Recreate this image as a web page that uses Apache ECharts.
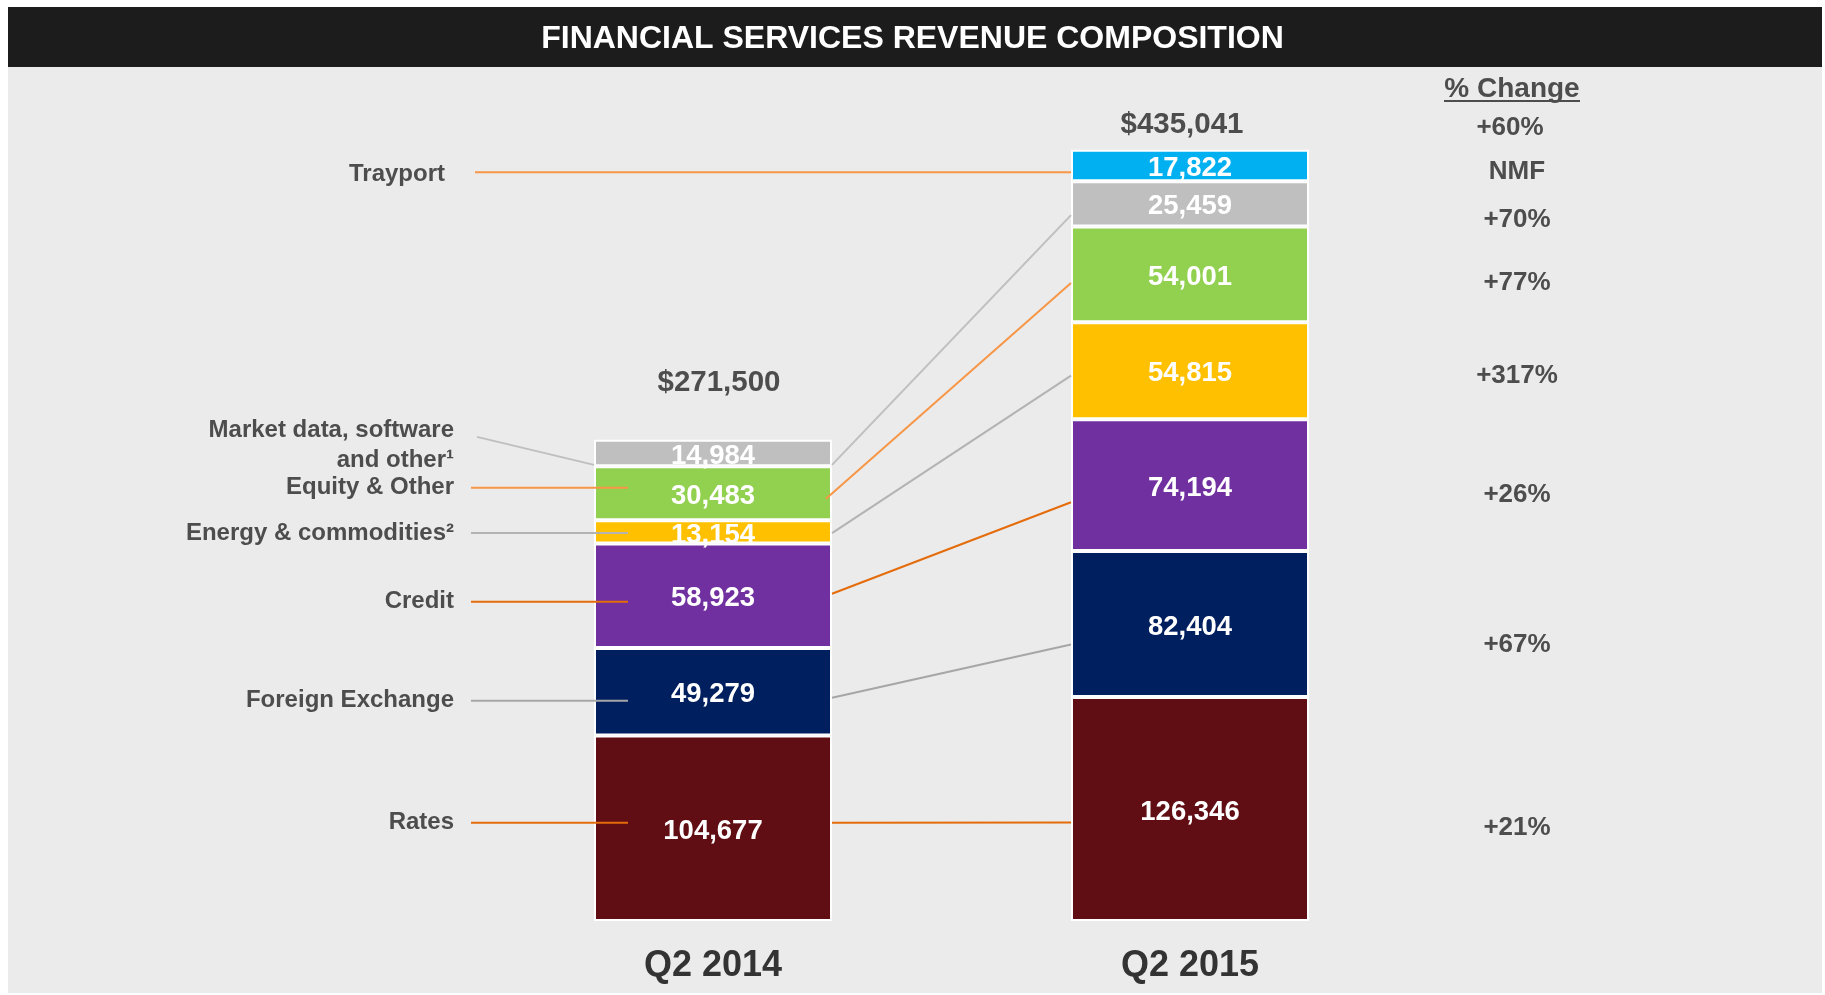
<!DOCTYPE html>
<html>
<head>
<meta charset="utf-8">
<title>Financial Services Revenue Composition</title>
<script src="https://cdn.jsdelivr.net/npm/echarts@6/dist/echarts.min.js"></script>
<style>
  html, body { margin: 0; padding: 0; background: #ffffff; }
  #chart { width: 1825px; height: 995px; }
</style>
</head>
<body>
<div id="chart"></div>
<script>
// data
const categories = ['Q2 2014', 'Q2 2015'];
const seriesNames = ['Rates', 'Foreign Exchange', 'Credit', 'Energy & commodities\u00b2',
  'Equity & Other', 'Market data, software\nand other\u00b9', 'Trayport'];
const rates = [104677, 126346];
const foreignExchange = [49279, 82404];
const credit = [58923, 74194];
const energy = [13154, 54815];
const equity = [30483, 54001];
const marketData = [14984, 25459];
const trayport = [null, 17822];
const totals = [271500, 435041];
const totalLabels = ['$271,500', '$435,041'];
const pctChange = ['+21%', '+67%', '+26%', '+317%', '+77%', '+70%', 'NMF'];
const pctTotal = '+60%';

const values = [rates, foreignExchange, credit, energy, equity, marketData, trayport];
const colors = ['#600d13', '#001f5f', '#7030a0', '#ffc000', '#92d050', '#bfbfbf', '#00b0f0'];
const lineColors = ['#e46c0a', '#a6a6a6', '#e46c0a', '#b3b3b3', '#f79646', '#bfbfbf', '#f79646'];
// where the leader lines hit each segment (share of the segment from its bottom)
const anchor14 = [0.53, 0.43, 0.52, 0.45, 0.4, 0.05, 0];
const anchor15 = [0.44, 0.36, 0.37, 0.45, 0.41, 0.25, 0.29];
// small hand nudges, as on the slide
const leftShift = [0, 3, 8, 0, -11, 0, 2];
const pctShift = [5, 0, -7, 0, 0, 5, 0];

const FONT = '"Liberation Sans", Arial, sans-serif';
const BAR_W = 238;

const chart = echarts.init(document.getElementById('chart'));

const series = values.map(function (v, k) {
  return {
    name: seriesNames[k],
    type: 'bar',
    stack: 'rev',
    barWidth: BAR_W,
    data: v,
    itemStyle: { color: colors[k], borderColor: '#ffffff', borderWidth: 2 },
    label: {
      show: true,
      position: 'inside',
      offset: [0, 3],
      color: '#ffffff',
      fontFamily: FONT,
      fontWeight: 'bold',
      fontSize: 27.5,
      formatter: function (p) { return p.value == null ? '' : p.value.toLocaleString('en-US'); }
    }
  };
});

chart.setOption({
  backgroundColor: '#ffffff',
  animation: false,
  title: {
    text: 'FINANCIAL SERVICES REVENUE COMPOSITION',
    left: 'center',
    top: 18,
    textStyle: { color: '#ffffff', fontFamily: FONT, fontWeight: 'bold', fontSize: 32 }
  },
  grid: { left: 474.5, right: 396.5, top: 70, bottom: 74 },
  xAxis: {
    type: 'category',
    data: categories,
    axisLine: { show: false },
    axisTick: { show: false },
    axisLabel: { color: '#333333', fontFamily: FONT, fontWeight: 'bold', fontSize: 36, margin: 27 }
  },
  yAxis: { type: 'value', min: 0, max: 480000, show: false, splitLine: { show: false } },
  series: series
});

// annotations placed through the chart's own scales
function px(cat, val) { return chart.convertToPixel({ gridIndex: 0 }, [cat, val]); }

const gfx = [
  { type: 'rect', z: -10, shape: { x: 8, y: 67, width: 1814, height: 926 }, style: { fill: '#ebebeb' } },
  { type: 'rect', z: -9, shape: { x: 8, y: 7, width: 1814, height: 60 }, style: { fill: '#1c1c1c' } }
];

function text(str, x, y, size, align, color) {
  gfx.push({
    type: 'text', z: 50, x: x, y: y,
    style: {
      text: str, fill: color || '#4d4d4d', align: align || 'center', verticalAlign: 'middle',
      fontFamily: FONT, fontWeight: 'bold', fontSize: size, lineHeight: Math.round(size * 1.25)
    }
  });
}
function line(x1, y1, x2, y2, color) {
  gfx.push({
    type: 'line', z: 40, shape: { x1: x1, y1: y1, x2: x2, y2: y2 },
    style: { stroke: color, lineWidth: 2 }
  });
}

const c14 = px(0, 0)[0], c15 = px(1, 0)[0];
const right14 = c14 + BAR_W / 2, left14 = c14 - BAR_W / 2, left15 = c15 - BAR_W / 2;
let base14 = 0, base15 = 0;

values.forEach(function (v, k) {
  const y15 = px(1, base15 + anchor15[k] * v[1])[1];
  if (v[0] != null) {
    const y14 = px(0, base14 + anchor14[k] * v[0])[1];
    const yl = y14 + leftShift[k];
    if (k === 5) {
      text(seriesNames[k], 454, y14 - 20, 24, 'right');
      line(477, y14 - 28, left14, y14, lineColors[k]);
    } else {
      text(seriesNames[k], 454, yl, 24, 'right');
      line(471, yl, left14 + 34, yl, lineColors[k]);
    }
    line(k === 4 ? right14 - 6 : right14, y14, left15, y15, lineColors[k]);
    base14 += v[0];
  } else {
    text(seriesNames[k], 445, y15 + leftShift[k], 24, 'right');
    line(475, y15, left15, y15, lineColors[k]);
  }
  text(pctChange[k], 1517, y15 + pctShift[k], 26, 'center');
  base15 += v[1];
});

// totals above the bars
const totalLift = [57, 25];
const totalNudge = [6, -8];
totals.forEach(function (t, i) {
  const p = px(i, t);
  text(totalLabels[i], p[0] + totalNudge[i], p[1] - totalLift[i], 29.5, 'center');
});

// % change column header
text('% Change', 1512, 89, 28, 'center');
line(1444, 101, 1580, 101, '#4d4d4d');
text(pctTotal, 1510, 128, 26, 'center');

chart.setOption({ graphic: { elements: gfx } });
</script>
</body>
</html>
